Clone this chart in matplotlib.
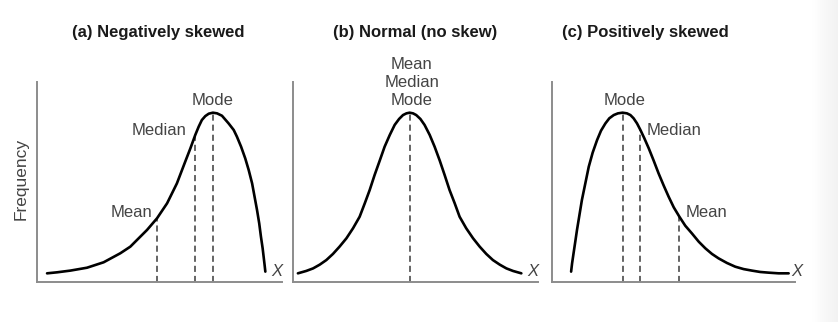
import numpy as np
import matplotlib
matplotlib.use("Agg")
import matplotlib.pyplot as plt

# curve points (x: 0-10 along the axis, y: frequency, peak = 1)
neg_x = [0.41, 0.82, 1.36, 2.04, 2.72, 3.40, 3.81, 4.08, 4.49, 4.90, 5.31, 5.71, 6.05,
         6.26, 6.46, 6.60, 6.73, 6.87, 7.01, 7.18, 7.35, 7.55, 7.82, 8.03, 8.16, 8.33,
         8.50, 8.64, 8.78, 8.88, 8.98, 9.07, 9.14, 9.21, 9.25, 9.29, 9.32]
neg_y = [0.051, 0.057, 0.067, 0.084, 0.116, 0.169, 0.208, 0.247, 0.306, 0.375, 0.463, 0.580, 0.708,
         0.786, 0.865, 0.914, 0.953, 0.976, 0.990, 0.996, 0.992, 0.978, 0.933, 0.894, 0.855, 0.796,
         0.727, 0.659, 0.580, 0.502, 0.424, 0.345, 0.267, 0.198, 0.149, 0.100, 0.061]

norm_x = [0.20, 0.54, 0.82, 1.09, 1.36, 1.63, 1.90, 2.18, 2.45, 2.72, 2.93, 3.13, 3.33, 3.54,
          3.74, 3.95, 4.15, 4.33, 4.49, 4.63, 4.76, 4.90, 5.03, 5.20, 5.37, 5.58, 5.78, 5.99,
          6.19, 6.39, 6.60, 6.80, 7.07, 7.35, 7.62, 7.89, 8.16, 8.44, 8.71, 8.98, 9.32]
norm_y = [0.051, 0.065, 0.080, 0.102, 0.129, 0.165, 0.208, 0.257, 0.316, 0.384, 0.463, 0.541, 0.629, 0.714,
          0.796, 0.865, 0.924, 0.959, 0.982, 0.992, 0.996, 0.992, 0.982, 0.959, 0.924, 0.865, 0.796, 0.714,
          0.629, 0.541, 0.463, 0.384, 0.316, 0.257, 0.208, 0.165, 0.129, 0.102, 0.080, 0.065, 0.051]

pos_x = [0.78, 0.82, 0.88, 0.95, 1.02, 1.12, 1.22, 1.36, 1.50, 1.66, 1.84, 2.00, 2.18, 2.34, 2.52,
         2.69, 2.88, 3.06, 3.20, 3.33, 3.47, 3.61, 3.77, 3.95, 4.15, 4.35, 4.56, 4.76, 4.97, 5.20,
         5.44, 5.71, 5.99, 6.26, 6.53, 6.80, 7.14, 7.48, 7.82, 8.16, 8.50, 8.84, 9.25, 9.66]
pos_y = [0.061, 0.110, 0.169, 0.237, 0.306, 0.394, 0.482, 0.580, 0.678, 0.761, 0.835, 0.890, 0.933, 0.963, 0.982,
         0.992, 0.996, 0.992, 0.982, 0.963, 0.933, 0.894, 0.845, 0.786, 0.714, 0.639, 0.567, 0.502, 0.439, 0.384,
         0.331, 0.286, 0.237, 0.198, 0.165, 0.139, 0.112, 0.090, 0.076, 0.067, 0.059, 0.055, 0.051, 0.051]

# mean / median / mode positions and curve height there
neg_marks_x = [4.90, 6.46, 7.18]
neg_marks_y = [0.375, 0.865, 0.996]
norm_marks_x = [4.76]
norm_marks_y = [0.996]
pos_marks_x = [2.88, 3.61, 5.20]
pos_marks_y = [0.996, 0.894, 0.384]

titles = ["(a) Negatively skewed", "(b) Normal (no skew)", "(c) Positively skewed"]

W, H = 838, 322
fig = plt.figure(figsize=(W / 100, H / 100), dpi=100)
fig.patch.set_facecolor("white")
plt.rcParams["font.family"] = ["Liberation Sans", "DejaVu Sans"]

axis_col = "#8c8c8c"
text_col = "#444444"
ymax = 200 / 170


def make_ax(left_px, width_px):
    ax = fig.add_axes([left_px / W, (H - 282) / H, width_px / W, 200 / H])
    ax.set_xlim(0, width_px / 24.5)
    ax.set_ylim(0, ymax)
    for s in ["top", "right"]:
        ax.spines[s].set_visible(False)
    for s in ["left", "bottom"]:
        ax.spines[s].set_color(axis_col)
        ax.spines[s].set_linewidth(1.4)
    ax.set_xticks([])
    ax.set_yticks([])
    ax.patch.set_alpha(0)
    return ax


def draw(ax, xs, ys, mx, my, x_label_pos):
    ax.vlines(mx, 0, my, colors="#3a3a3a", linewidth=1.1,
              linestyles=(0, (4.0, 2.6)))
    ax.plot(xs, ys, color="black", linewidth=1.9, solid_capstyle="round",
            solid_joinstyle="round")
    ax.text(x_label_pos, 0.06, "X", style="italic", fontsize=12, color=text_col,
            ha="center", va="center", clip_on=False)


def label(ax, x, y, s, ha="center"):
    ax.text(x, y, s, fontsize=12, color=text_col, ha=ha, va="center", clip_on=False)


ax1 = make_ax(37, 245)
draw(ax1, neg_x, neg_y, neg_marks_x, neg_marks_y, 9.78)
label(ax1, 7.18, 1.065, "Mode")
label(ax1, 6.12, 0.894, "Median", ha="right")
label(ax1, 4.69, 0.406, "Mean", ha="right")

ax2 = make_ax(293, 245)
draw(ax2, norm_x, norm_y, norm_marks_x, norm_marks_y, 9.8)
label(ax2, 4.84, 1.282, "Mean")
label(ax2, 4.84, 1.171, "Median")
label(ax2, 4.84, 1.065, "Mode")

ax3 = make_ax(552, 243)
draw(ax3, pos_x, pos_y, pos_marks_x, pos_marks_y, 10.0)
label(ax3, 2.98, 1.065, "Mode")
label(ax3, 3.88, 0.894, "Median", ha="left")
label(ax3, 5.47, 0.406, "Mean", ha="left")

for cx, t in zip([158, 415, 645], titles):
    fig.text(cx / W, 1 - 32 / H, t, fontsize=12, fontweight="bold",
             color="#1a1a1a", ha="center", va="center")

fig.text(21 / W, 1 - 179 / H, "Frequency", rotation=90, fontsize=12.5,
         color=text_col, ha="center", va="center")

# faint shadow on the right edge
sh = fig.add_axes([812 / W, 0, 26 / W, 1])
grad = np.linspace(0, 1, 64).reshape(1, -1)
sh.imshow(grad, aspect="auto", cmap="Greys", vmin=0, vmax=9, extent=[0, 1, 0, 1])
sh.set_axis_off()

fig.savefig("out.png", dpi=100, facecolor="white")
